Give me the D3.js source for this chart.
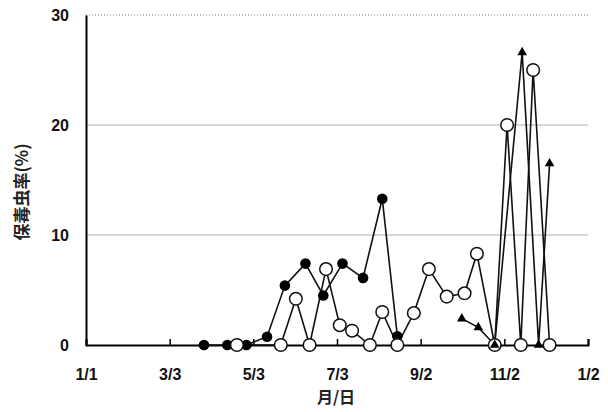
<!DOCTYPE html>
<html lang="ja">
<head>
<meta charset="utf-8">
<script src="https://d3js.org/d3.v7.min.js"></script>
<style>
  body { margin: 0; background: #fff; }
  text { font-family: "Liberation Sans", Arial, sans-serif; font-weight: bold; }
  .jp { font-family: "Noto Sans CJK JP", sans-serif; font-weight: bold; }
</style>
</head>
<body>
<div id="chart"></div>
<script>
// sampling dates (month/day) and values (%) for each series
var filledDates = ["3/28", "4/14", "4/28", "5/13", "5/26", "6/10", "6/23", "7/7", "7/22", "8/5", "8/16"];
var filledValues = [0, 0, 0, 0.75, 5.4, 7.4, 4.5, 7.4, 6.1, 13.3, 0.8];

var openDates = ["4/21", "5/23", "6/3", "6/13", "6/25", "7/5", "7/14", "7/27", "8/5", "8/16",
                 "8/28", "9/8", "9/21", "10/4", "10/13", "10/26", "11/4", "11/14", "11/23", "12/5"];
var openValues = [0, 0, 4.2, 0, 6.9, 1.8, 1.3, 0, 3.0, 0, 2.9, 6.9, 4.4, 4.7, 8.3, 0, 20, 0, 25, 0];

var triDates = ["10/2", "10/14", "10/26", "11/15", "11/27", "12/5"];
var triValues = [2.4, 1.6, 0, 26.6, 0, 16.5];

var xTickLabels = ["1/1", "3/3", "5/3", "7/3", "9/2", "11/2", "1/2"];
var yTicks = [0, 10, 20, 30];

var W = 608, H = 412;
var margin = {left: 86, right: 20, top: 15, bottom: 67};

function toDate(s, yr) {
  var p = s.split("/");
  return new Date(yr || 2009, +p[0] - 1, +p[1]);
}
// tick dates: last one is in the following year
var xTickDates = xTickLabels.map(function (s, i) {
  return toDate(s, i === xTickLabels.length - 1 ? 2010 : 2009);
});

var x = d3.scaleTime()
  .domain([xTickDates[0], xTickDates[xTickDates.length - 1]])
  .range([margin.left, W - margin.right]);
var y = d3.scaleLinear().domain([0, 30]).range([H - margin.bottom, margin.top]);

var svg = d3.select("#chart").append("svg").attr("width", W).attr("height", H);

// gridlines
svg.append("g").selectAll("line").data([10, 20]).enter().append("line")
  .attr("x1", margin.left).attr("x2", W - margin.right)
  .attr("y1", function (d) { return y(d); }).attr("y2", function (d) { return y(d); })
  .attr("stroke", "#b0b0b0").attr("stroke-width", 1.2);
svg.append("line")
  .attr("x1", margin.left).attr("x2", W - margin.right)
  .attr("y1", y(30)).attr("y2", y(30))
  .attr("stroke", "#777").attr("stroke-width", 1).attr("stroke-dasharray", "1,2");

// y axis
var yAxis = svg.append("g").attr("transform", "translate(" + margin.left + ",0)");
yAxis.call(d3.axisLeft(y).tickValues(d3.range(0, 31, 1)).tickSize(3).tickFormat(""));
yAxis.call(d3.axisLeft(y).tickValues(yTicks).tickSize(0).tickFormat(d3.format("d")).tickPadding(17));
yAxis.selectAll(".domain").attr("stroke-width", 2);
yAxis.selectAll("text").attr("font-size", 16).attr("fill", "#111")
  .attr("font-family", "Liberation Sans, Arial, sans-serif").attr("font-weight", "bold");
yAxis.selectAll("line").attr("stroke", "#333");

// x axis with short inward ticks
var xAxis = svg.append("g").attr("transform", "translate(0," + y(0) + ")");
xAxis.call(d3.axisBottom(x).tickValues(xTickDates).tickSize(-6)
  .tickFormat(function (d, i) { return xTickLabels[i]; }).tickPadding(24));
xAxis.selectAll(".domain").attr("stroke-width", 2);
xAxis.selectAll("line").attr("stroke-width", 1.5);
xAxis.selectAll("text").attr("font-size", 16).attr("fill", "#111")
  .attr("font-family", "Liberation Sans, Arial, sans-serif").attr("font-weight", "bold");

// axis titles
svg.append("text").attr("class", "jp")
  .attr("transform", "translate(28," + 192 + ") rotate(-90)")
  .attr("text-anchor", "middle").attr("font-size", 17).attr("fill", "#222")
  .text("保毒虫率(%)");
svg.append("text").attr("class", "jp")
  .attr("x", 336).attr("y", 403).attr("text-anchor", "middle")
  .attr("font-size", 16).attr("fill", "#222").text("月/日");

function series(dates, values) {
  return dates.map(function (d, i) { return {date: toDate(d), v: values[i]}; });
}
var filled = series(filledDates, filledValues);
var open = series(openDates, openValues);
var tri = series(triDates, triValues);

var line = d3.line().x(function (d) { return x(d.date); }).y(function (d) { return y(d.v); });

[filled, open, tri].forEach(function (s) {
  svg.append("path").datum(s).attr("d", line)
    .attr("fill", "none").attr("stroke", "#111").attr("stroke-width", 1.6);
});

svg.append("g").selectAll("circle").data(filled).enter().append("circle")
  .attr("cx", function (d) { return x(d.date); }).attr("cy", function (d) { return y(d.v); })
  .attr("r", 5.3).attr("fill", "#000");

svg.append("g").selectAll("circle").data(open).enter().append("circle")
  .attr("cx", function (d) { return x(d.date); }).attr("cy", function (d) { return y(d.v); })
  .attr("r", 6.3).attr("fill", "#fff").attr("stroke", "#111").attr("stroke-width", 1.5);

svg.append("g").selectAll("path").data(tri).enter().append("path")
  .attr("d", d3.symbol().type(d3.symbolTriangle).size(40))
  .attr("transform", function (d) { return "translate(" + x(d.date) + "," + y(d.v) + ")"; })
  .attr("fill", "#000");
</script>
</body>
</html>
